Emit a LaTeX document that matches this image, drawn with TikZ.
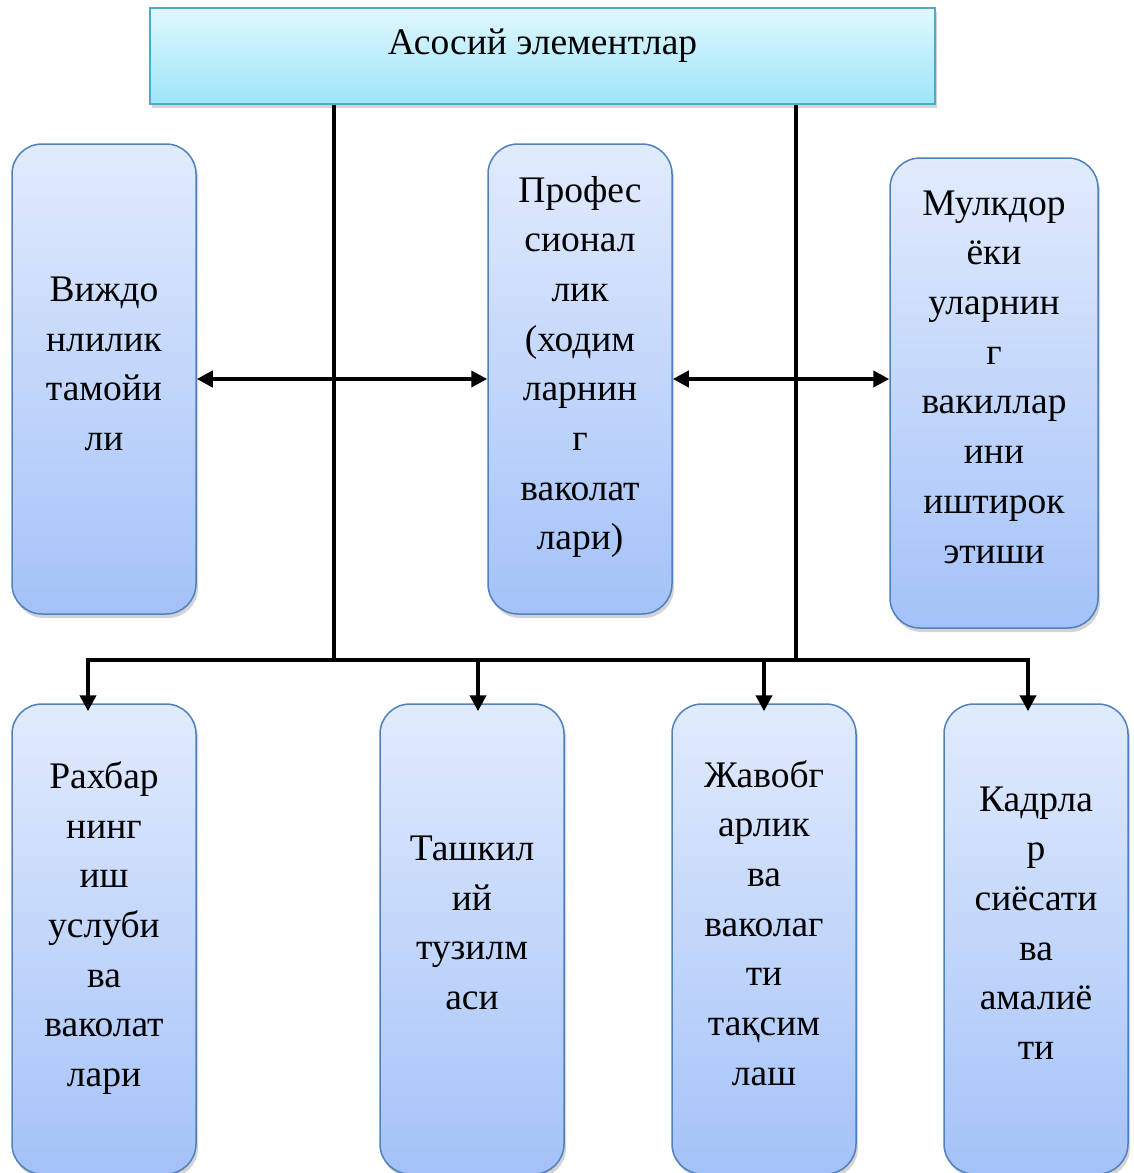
\documentclass[tikz,border=0pt]{standalone}
\usepackage{fontspec}
\setmainfont{Liberation Serif}
\usetikzlibrary{arrows.meta,shadows}
\definecolor{boxtop}{HTML}{E1EBFD}
\definecolor{boxbot}{HTML}{A4C2F8}
\definecolor{boxline}{HTML}{4F81BD}
\definecolor{headtop}{HTML}{E0F8FE}
\definecolor{headbot}{HTML}{9EE4F9}
\definecolor{headline}{HTML}{4BACC6}

\begin{document}
\begin{tikzpicture}[x=1pt,y=-1pt,
  box/.style={draw=boxline, line width=1.5pt, rounded corners=30pt, top color=boxtop, bottom color=boxbot,
    minimum width=184pt, minimum height=470pt, inner sep=0pt,
    drop shadow={shadow xshift=2pt, shadow yshift=-4pt, opacity=.35}},
  txt/.style={align=center, font=\fontsize{37.5}{49.7}\selectfont, inner sep=0pt},
  link/.style={line width=4.5pt},
  arr/.style={link, -{Triangle[length=16pt,width=16pt]}},
  dbl/.style={link, {Triangle[length=16pt,width=16pt]}-{Triangle[length=16pt,width=16pt]}}]
\useasboundingbox (0,0) rectangle (1134,1173);

% header
\node[box, sharp corners, draw=headline, top color=headtop, bottom color=headbot,
  minimum width=785pt, minimum height=96pt] (head) at (542.5,56) {};
\node[txt] (headt) at (542.5,46) {Асосий элементлар};

% middle row
\node[box] (vij) at (104,379) {};
\node[box] (prof) at (580,379) {};
\node[box, minimum width=208pt] (mul) at (994,393) {};
\node[txt] (vijt) at (104,364) {Виждо\\нлилик\\тамойи\\ли};
\node[txt] (proft) at (580,367) {Профес\\сионал\\лик\\(ходим\\ларнин\\г\\ваколат\\лари)};
\node[txt] (mult) at (994,377) {Мулкдор\\ёки\\уларнин\\г\\вакиллар\\ини\\иштирок\\этиши};

% bottom row
\node[box] (rah) at (104,939) {};
\node[box] (tash) at (472,939) {};
\node[box] (jav) at (764,939) {};
\node[box] (kad) at (1036,939) {};
\node[txt] (raht) at (104,928) {Рахбар\\нинг\\иш\\услуби\\ва\\ваколат\\лари};
\node[txt] (tasht) at (472,923) {Ташкил\\ий\\тузилм\\аси};
\node[txt] (javt) at (764,923) {Жавобг\\арлик\\ва\\ваколаг\\ти\\тақсим\\лаш};
\node[txt] (kadt) at (1036,923) {Кадрла\\р\\сиёсати\\ва\\амалиё\\ти};

% connectors
\coordinate (j1) at (334,660);
\coordinate (j2) at (796,660);
\coordinate (busL) at (88,660);
\coordinate (busR) at (1028,660);
\coordinate (d2) at (478,660);
\coordinate (d3) at (764,660);
\draw[link] (head.south -| j1) -- (j1);
\draw[link] (head.south -| j2) -- (j2);
\draw[link] (j1) -- (j2);
\draw[arr] (j1) -- (busL) -- ([yshift=-8pt]busL |- rah.north);
\draw[arr] (j2) -- (busR) -- ([yshift=-8pt]busR |- kad.north);
\foreach \c/\b in {d2/tash, d3/jav}
  \draw[arr] (\c) -- ([yshift=-8pt]\c |- \b.north);
\draw[dbl] (vij.east) -- (prof.west);
\draw[dbl] (prof.east) -- (prof.east -| mul.west);
\end{tikzpicture}
\end{document}
